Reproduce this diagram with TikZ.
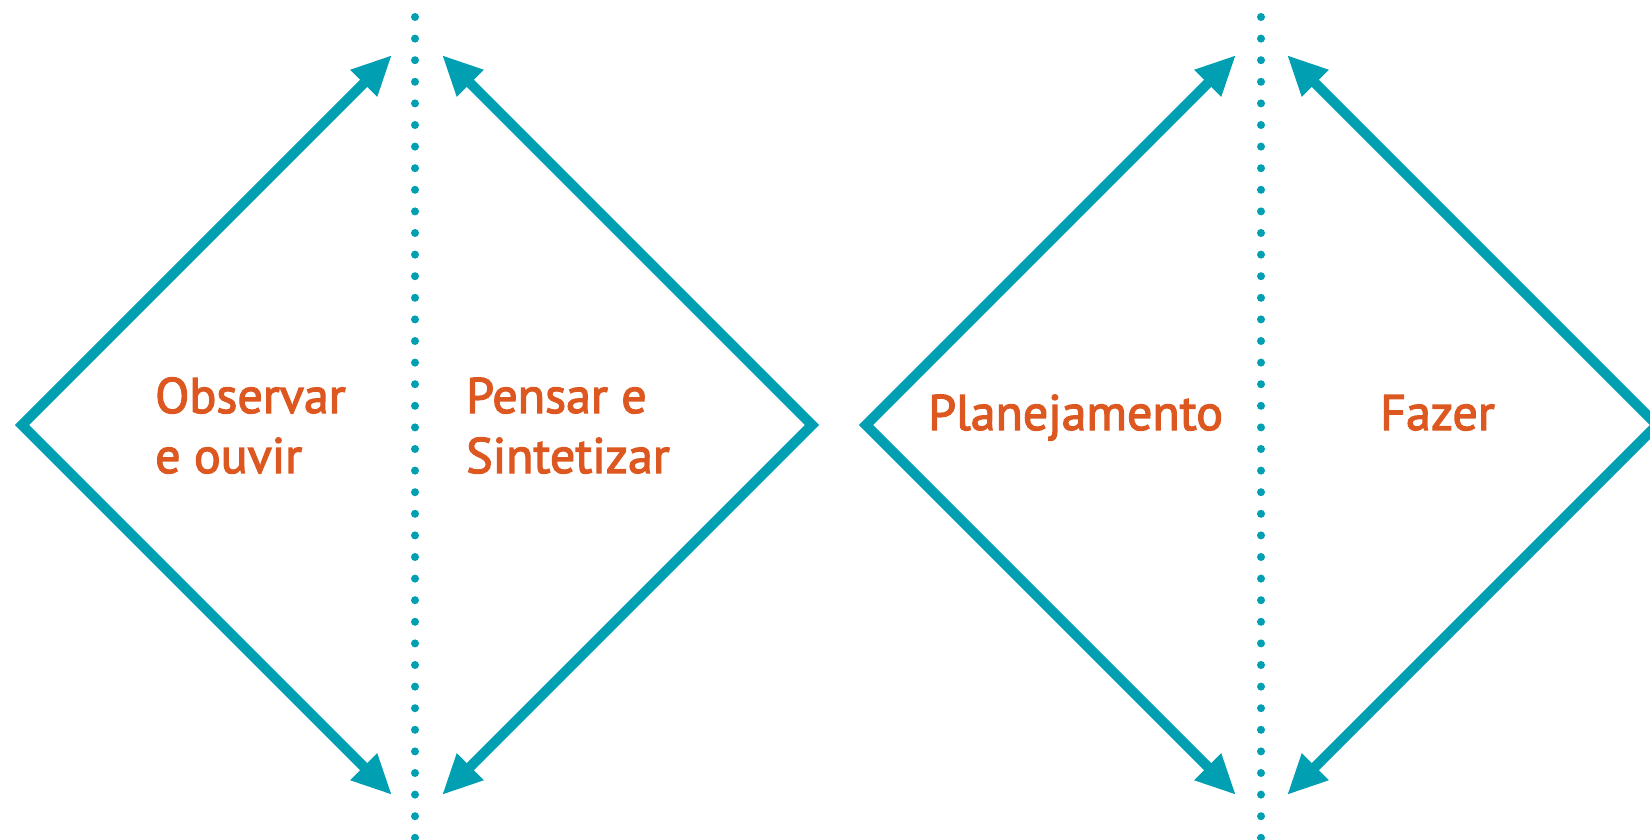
\documentclass[tikz,border=0pt]{standalone}
\usepackage{fontspec}
\setmainfont[FakeBold=2.5]{PT Sans}
\usetikzlibrary{arrows.meta}
\definecolor{teal1}{RGB}{0,160,178}
\definecolor{orng}{RGB}{220,88,32}
\tikzset{
  halfdiamond/.style={draw=teal1, line width=10pt, miter limit=10, line join=miter,
    {Triangle[length=40pt,width=35pt]}-{Triangle[length=40pt,width=35pt]}},
  dotline/.style={draw=teal1, line width=8pt, line cap=round, dash pattern=on 0pt off 21.6pt},
  lbl/.style={text=orng, font=\fontsize{50}{60}\selectfont, anchor=base west, inner sep=0pt, align=left}
}
\begin{document}
\begin{tikzpicture}[x=1pt,y=-1pt]
\useasboundingbox (0,0) rectangle (1650,839);
% dotted separators
\coordinate (d1t) at (415,17);
\coordinate (d1b) at (415,845);
\coordinate (d2t) at (1261,17);
\coordinate (d2b) at (1261,845);
\draw[dotline] (d1t) -- (d1b);
\draw[dotline] (d2t) -- (d2b);
% first diamond
\coordinate (a1) at (392,55);
\coordinate (v1) at (22,425);
\coordinate (b1) at (392,795);
\coordinate (a2) at (442,55);
\coordinate (v2) at (812,425);
\coordinate (b2) at (442,795);
\draw[halfdiamond] (a1) -- (v1) -- (b1);
\draw[halfdiamond] (a2) -- (v2) -- (b2);
% second diamond
\coordinate (a3) at (1236,55);
\coordinate (v3) at (866,425);
\coordinate (b3) at (1236,795);
\coordinate (a4) at (1287,55);
\coordinate (v4) at (1657,425);
\coordinate (b4) at (1287,795);
\draw[halfdiamond] (a3) -- (v3) -- (b3);
\draw[halfdiamond] (a4) -- (v4) -- (b4);
% labels
\node[lbl] (t1) at (155,473) {Observar\\e ouvir};
\node[lbl] (t2) at (466,473) {Pensar e\\Sintetizar};
\node[lbl] (t3) at (928,430) {Planejamento};
\node[lbl] (t4) at (1380,430) {Fazer};
\end{tikzpicture}
\end{document}
